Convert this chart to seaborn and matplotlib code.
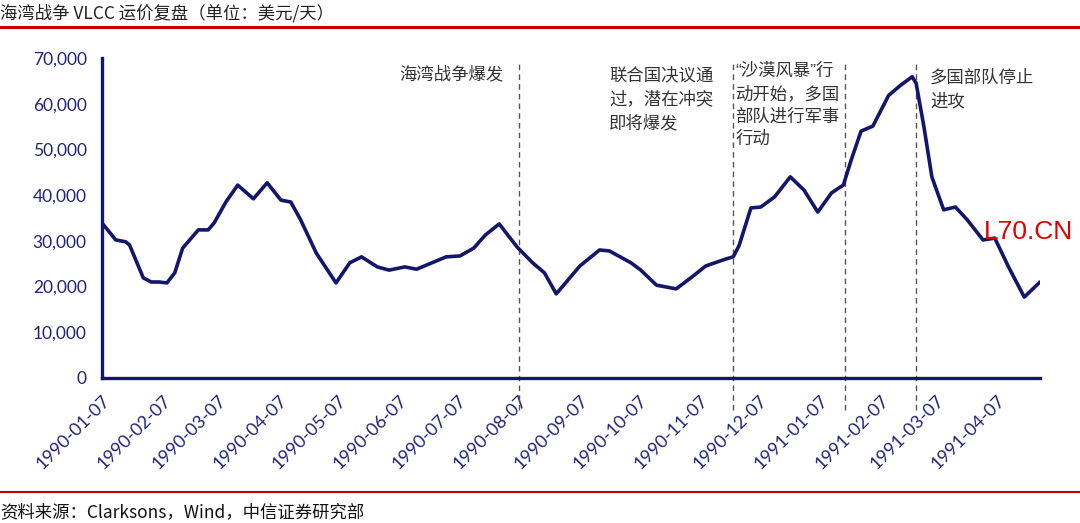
import matplotlib
matplotlib.use("Agg")
import matplotlib.pyplot as plt
import matplotlib.dates as mdates
from matplotlib.ticker import FuncFormatter
import seaborn as sns
import pandas as pd

# ---------------- data ----------------
dates = [
    "1990-01-07", "1990-01-14", "1990-01-19", "1990-01-21", "1990-01-28", "1990-02-01",
    "1990-02-05", "1990-02-09", "1990-02-13", "1990-02-17", "1990-02-25", "1990-03-02",
    "1990-03-05", "1990-03-11", "1990-03-17", "1990-03-25", "1990-03-28", "1990-04-01",
    "1990-04-08", "1990-04-13", "1990-04-18", "1990-04-26", "1990-05-06", "1990-05-13",
    "1990-05-19", "1990-05-27", "1990-06-02", "1990-06-10", "1990-06-16", "1990-07-01",
    "1990-07-08", "1990-07-15", "1990-07-21", "1990-07-28", "1990-08-06", "1990-08-14",
    "1990-08-20", "1990-08-26", "1990-09-07", "1990-09-17", "1990-09-22", "1990-10-03",
    "1990-10-08", "1990-10-16", "1990-10-26", "1990-11-03", "1990-11-10", "1990-11-20",
    "1990-11-24", "1990-11-27", "1990-12-03", "1990-12-08", "1990-12-15", "1990-12-23",
    "1990-12-30", "1991-01-06", "1991-01-13", "1991-01-19", "1991-01-23", "1991-01-28",
    "1991-02-03", "1991-02-11", "1991-02-17", "1991-02-23", "1991-02-25", "1991-03-01",
    "1991-03-05", "1991-03-11", "1991-03-17", "1991-03-23", "1991-03-31", "1991-04-06",
    "1991-04-13", "1991-04-21", "1991-04-29",
]
rates = [
    33900, 30200, 29800, 29100, 21900, 21000,
    21000, 20800, 23000, 28400, 32400, 32400,
    33900, 38500, 42200, 39200, 40700, 42700,
    38900, 38500, 34600, 27300, 20800, 25200,
    26500, 24300, 23600, 24300, 23800, 26500,
    26700, 28400, 31300, 33700, 28700, 25200,
    23000, 18400, 24500, 28000, 27800, 25200,
    23600, 20300, 19500, 22100, 24500, 26000,
    26500, 29000, 37200, 37400, 39600, 44000,
    41100, 36300, 40500, 42200, 47700, 54000,
    55100, 61800, 64000, 65900, 64500, 54900,
    44000, 36800, 37400, 34600, 30200, 30600,
    24300, 17700, 21000,
]
event_dates = ["1990-08-07", "1990-11-24", "1991-01-20", "1991-02-25"]
event_labels = [
    "海湾战争爆发",
    "联合国决议通\n过，潜在冲突\n即将爆发",
    "“沙漠风暴”行\n动开始，多国\n部队进行军事\n行动",
    "多国部队停止\n进攻",
]
title = "海湾战争 VLCC 运价复盘（单位：美元/天）"
source = "资料来源：Clarksons，Wind，中信证券研究部"
y_ticks = [0, 10000, 20000, 30000, 40000, 50000, 60000, 70000]
x_tick_dates = ["1990-01-07", "1990-02-07", "1990-03-07", "1990-04-07", "1990-05-07",
                "1990-06-07", "1990-07-07", "1990-08-07", "1990-09-07", "1990-10-07",
                "1990-11-07", "1990-12-07", "1991-01-07", "1991-02-07", "1991-03-07",
                "1991-04-07"]

# ---------------- styling ----------------
sns.set_style("white")
plt.rcParams["font.family"] = ["Noto Sans CJK SC", "DejaVu Sans"]

NAVY = "#14166B"
TICK_NAVY = "#23237A"
RED = "#C00000"

df = pd.DataFrame({"date": pd.to_datetime(dates), "rate": rates})

fig = plt.figure(figsize=(10.8, 5.23), dpi=100)
ax = fig.add_axes([102 / 1080, 1 - 378 / 523, (1040 - 102) / 1080, (378 - 58) / 523])

sns.lineplot(data=df, x="date", y="rate", ax=ax, color=NAVY, linewidth=2.6)
ax.lines[0].set_solid_joinstyle("round")
ax.lines[0].set_solid_capstyle("round")

ax.set_xlim(pd.Timestamp("1990-01-07"), pd.Timestamp("1991-04-29"))
ax.set_ylim(0, 70000)
ax.set_xlabel("")
ax.set_ylabel("")

ax.set_yticks(y_ticks)
ax.yaxis.set_major_formatter(FuncFormatter(lambda v, p: f"{int(v):,}"))
ax.set_xticks(pd.to_datetime(x_tick_dates))
ax.xaxis.set_major_formatter(mdates.DateFormatter("%Y-%m-%d"))

for s in ["top", "right"]:
    ax.spines[s].set_visible(False)
for s in ["left", "bottom"]:
    ax.spines[s].set_color(NAVY)
    ax.spines[s].set_linewidth(2.4)

ax.tick_params(axis="y", direction="out", length=6, width=2, color=NAVY,
               labelsize=12.5, labelcolor=TICK_NAVY, pad=5)
ax.tick_params(axis="x", direction="out", length=7, width=2, color=NAVY,
               labelsize=13, labelcolor=TICK_NAVY, pad=3)
for lab in ax.get_yticklabels():
    lab.set_family(["Lato", "DejaVu Sans"])
for lab in ax.get_xticklabels():
    lab.set_family(["Lato", "DejaVu Sans"])
    lab.set_rotation(45)
    lab.set_ha("right")
    lab.set_va("top")
    lab.set_rotation_mode("anchor")

# event lines
for d in event_dates:
    ax.axvline(pd.Timestamp(d), ymin=-0.1, ymax=0.985, color="#555555",
               linewidth=1.0, linestyle=(0, (4, 3)), clip_on=False, zorder=1)

# annotations
txt_kw = dict(fontsize=12.5, color="#333333", va="top", linespacing=1.45)
ax.text(pd.Timestamp("1990-07-30"), 68300, event_labels[0], ha="right", **txt_kw)
ax.text(pd.Timestamp("1990-09-22"), 68300, event_labels[1], ha="left", **txt_kw)
ax.text(pd.Timestamp("1990-11-25"), 69000, event_labels[2], ha="left",
        family=["Liberation Sans", "Noto Sans CJK SC"], **txt_kw)
ax.text(pd.Timestamp("1991-03-04"), 67700, event_labels[3], ha="left", **txt_kw)

# watermark
fig.text(984 / 1080, 1 - 232 / 523, "L70.CN", color="#E00000", fontsize=19,
         family=["Liberation Sans", "DejaVu Sans"], ha="left", va="center")

# title and source with red rules
fig.text(0.0, 1 - 13 / 523, title, fontsize=12.5, color="#222222",
         ha="left", va="center", fontweight="medium")
fig.add_artist(plt.Line2D([0, 1], [1 - 27 / 523] * 2, color=RED, linewidth=2.2,
                          transform=fig.transFigure))
fig.add_artist(plt.Line2D([0, 1], [1 - 492 / 523] * 2, color=RED, linewidth=1.5,
                          transform=fig.transFigure))
fig.text(0.0, 1 - 512 / 523, source, fontsize=12.5, color="#111111",
         ha="left", va="center")

fig.savefig("out.png", dpi=100)
